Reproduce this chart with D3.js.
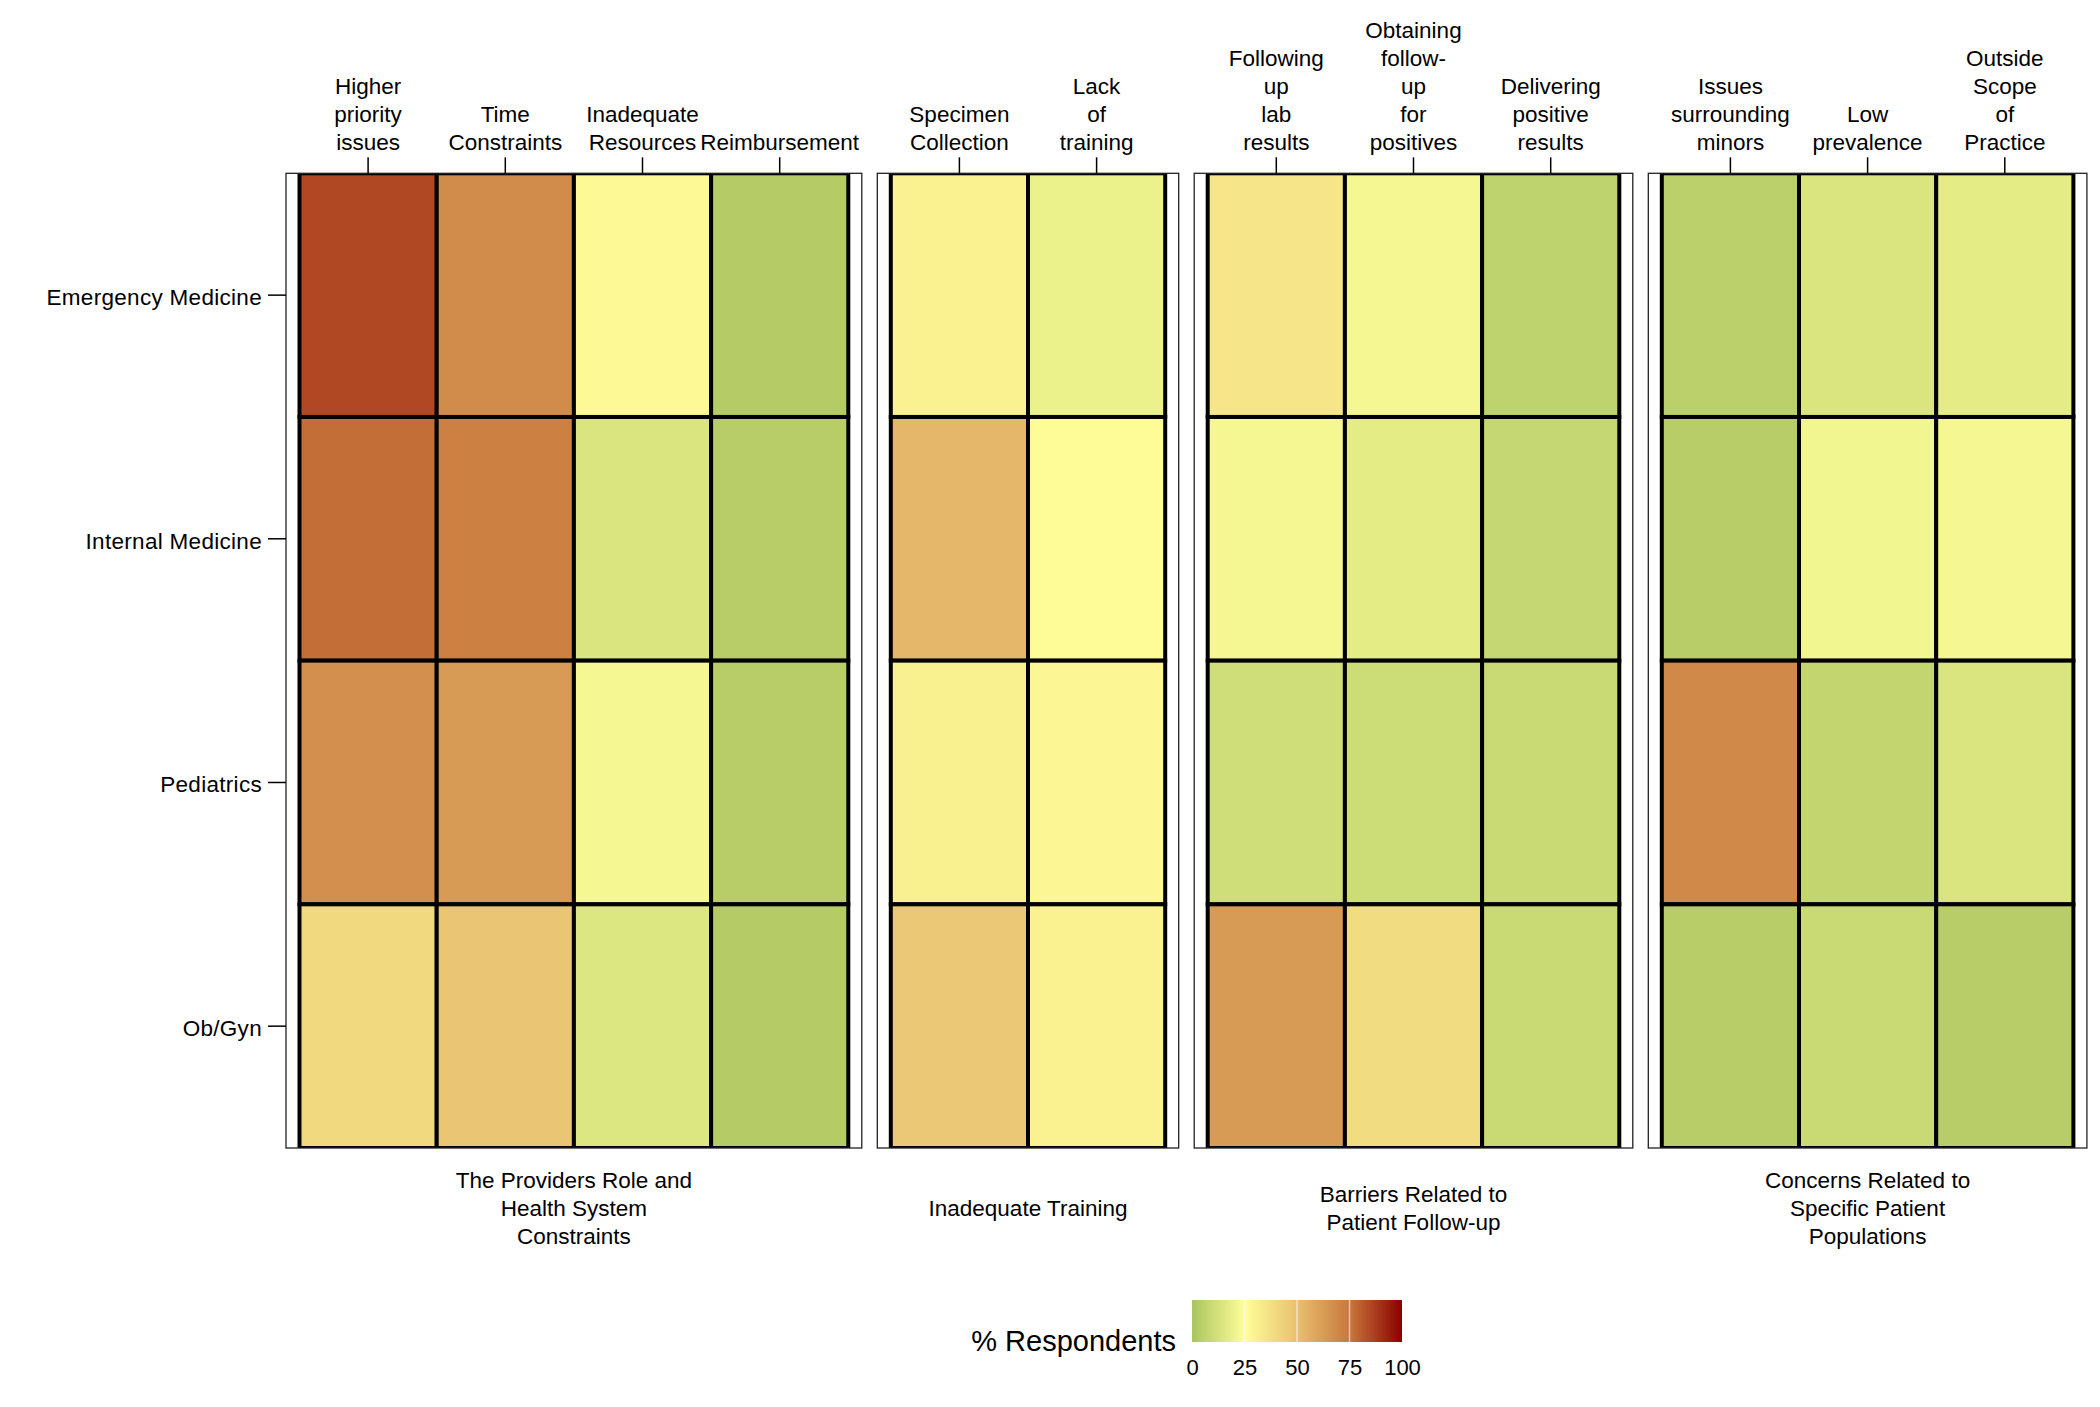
<!DOCTYPE html>
<html><head><meta charset="utf-8">
<script src="https://cdn.jsdelivr.net/npm/d3@7"></script>
<style>body{margin:0;background:#fff} text{font-family:"Liberation Sans",Arial,Helvetica,sans-serif;fill:#000}</style>
</head><body><svg id="c" width="2100" height="1407"></svg>
<script>
// ---------------- data ----------------
const rows = ["Emergency Medicine","Internal Medicine","Pediatrics","Ob/Gyn"];
const groupTitles = [
  ["The Providers Role and","Health System","Constraints"],
  ["Inadequate Training"],
  ["Barriers Related to","Patient Follow-up"],
  ["Concerns Related to","Specific Patient","Populations"]
];
const providerItems = [["Higher","priority","issues"],["Time","Constraints"],["Inadequate","Resources"],["Reimbursement"]];
const trainingItems = [["Specimen","Collection"],["Lack","of","training"]];
const followupItems = [["Following","up","lab","results"],["Obtaining","follow-","up","for","positives"],["Delivering","positive","results"]];
const populationItems = [["Issues","surrounding","minors"],["Low","prevalence"],["Outside","Scope","of","Practice"]];
// % respondents, rows = EM, IM, Peds, Ob/Gyn
const providerValues   = [[85,68,27,3],[77,72,14,4],[67,63,22,4],[40,48,15,3]];
const trainingValues   = [[30,19],[53,26],[31,28],[47,30]];
const followupValues   = [[35,22,6],[22,17,8],[11,10,9],[63,39,9]];
const populationValues = [[5,14,17],[4,21,22],[69,7,14],[4,9,4]];
const legendTicks = [0,25,50,75,100];
const legendTitle = "% Respondents";
const colorStops = ["#aac45f","#ffff99","#e8c070","#c8783c","#8b0000"];

// ---------------- layout ----------------
const svg = d3.select("#c");
const panels = [
  {items: providerItems, values: providerValues, title: groupTitles[0]},
  {items: trainingItems, values: trainingValues, title: groupTitles[1]},
  {items: followupItems, values: followupValues, title: groupTitles[2]},
  {items: populationItems, values: populationValues, title: groupTitles[3]}
];
const left0 = 286, cellW = 137.2, pad = 13.5, gap = 15.5;
const top0 = 173.3, bottom0 = 1148;
const FS = 22.5, LH = 28.1;

const color = d3.scaleLinear().domain(legendTicks).range(colorStops).interpolate(d3.interpolateRgb).clamp(true);
const y = d3.scaleBand().domain(rows).range([top0, bottom0]).paddingInner(0).paddingOuter(0);

let cx = left0;
panels.forEach((p, pi) => {
  const n = p.items.length;
  const x0 = cx, w = n * cellW + 2 * pad;
  cx += w + gap;
  const x = d3.scaleBand().domain(d3.range(n)).range([x0 + pad, x0 + pad + n * cellW]);
  const g = svg.append("g");
  const clipId = "clip" + pi;
  svg.append("clipPath").attr("id", clipId).append("rect")
    .attr("x", x0).attr("y", top0).attr("width", w).attr("height", bottom0 - top0);
  const cg = g.append("g").attr("clip-path", `url(#${clipId})`);
  rows.forEach((r, ri) => {
    p.values[ri].forEach((v, ci) => {
      cg.append("rect")
        .attr("x", x(ci)).attr("y", y(r))
        .attr("width", x.bandwidth()).attr("height", y.bandwidth())
        .attr("fill", color(v)).attr("stroke", "#000").attr("stroke-width", 4);
    });
  });
  g.append("rect").attr("x", x0).attr("y", top0).attr("width", w).attr("height", bottom0 - top0)
    .attr("fill", "none").attr("stroke", "#222").attr("stroke-width", 1.3);
  // top axis ticks
  const ax = g.append("g").attr("transform", `translate(0,${top0})`)
    .call(d3.axisTop(x).tickSize(16).tickFormat(""));
  ax.select(".domain").remove();
  ax.selectAll(".tick line").attr("stroke", "#000").attr("stroke-width", 1.5);
  // top labels (multi-line, bottom aligned)
  p.items.forEach((lines, ci) => {
    const t = g.append("text").attr("text-anchor", "middle").style("font-size", FS + "px");
    lines.forEach((ln, li) => {
      t.append("tspan").attr("x", x(ci) + x.bandwidth() / 2)
        .attr("y", 150 - (lines.length - 1 - li) * LH).text(ln);
    });
  });
  // bottom group title
  const tt = g.append("text").attr("text-anchor", "middle").style("font-size", FS + "px");
  p.title.forEach((ln, li) => {
    tt.append("tspan").attr("x", x0 + w / 2)
      .attr("y", 1208 + 8 - (p.title.length - 1) * LH / 2 + li * LH).text(ln);
  });
});

// left axis
const ay = svg.append("g").attr("transform", `translate(${left0},0)`)
  .call(d3.axisLeft(y).tickSize(18).tickPadding(6));
ay.select(".domain").remove();
ay.selectAll(".tick line").attr("stroke", "#000").attr("stroke-width", 1.5);
ay.selectAll(".tick text").style("font-size", FS + "px").style("font-family", '"Liberation Sans",Arial,sans-serif')
  .attr("fill", "#000").style("letter-spacing", "0.3px").attr("y", 2.5);

// ---------------- legend ----------------
const lx = d3.scaleLinear().domain([0, 100]).range([1192, 1402]);
const ly0 = 1300, ly1 = 1342;
const defs = svg.append("defs");
const grad = defs.append("linearGradient").attr("id", "lg").attr("x1", "0%").attr("x2", "100%");
d3.range(0, 101, 5).forEach(v => grad.append("stop").attr("offset", v + "%").attr("stop-color", color(v)));
svg.append("rect").attr("x", lx(0)).attr("y", ly0).attr("width", lx(100) - lx(0)).attr("height", ly1 - ly0)
  .attr("fill", "url(#lg)");
legendTicks.slice(1, -1).forEach(v => {
  svg.append("line").attr("x1", lx(v)).attr("x2", lx(v)).attr("y1", ly0).attr("y2", ly1)
    .attr("stroke", "#fff").attr("stroke-opacity", 0.55).attr("stroke-width", 1.5);
});
const la = svg.append("g").attr("transform", `translate(0,${ly1})`)
  .call(d3.axisBottom(lx).tickValues(legendTicks).tickSize(0).tickPadding(17));
la.select(".domain").remove();
la.selectAll(".tick text").style("font-size", "22px").style("font-family", '"Liberation Sans",Arial,sans-serif').attr("fill", "#000");
svg.append("text").attr("x", 1176).attr("y", 1351).attr("text-anchor", "end")
  .style("font-size", "29px").text(legendTitle);
</script>
</body></html>
